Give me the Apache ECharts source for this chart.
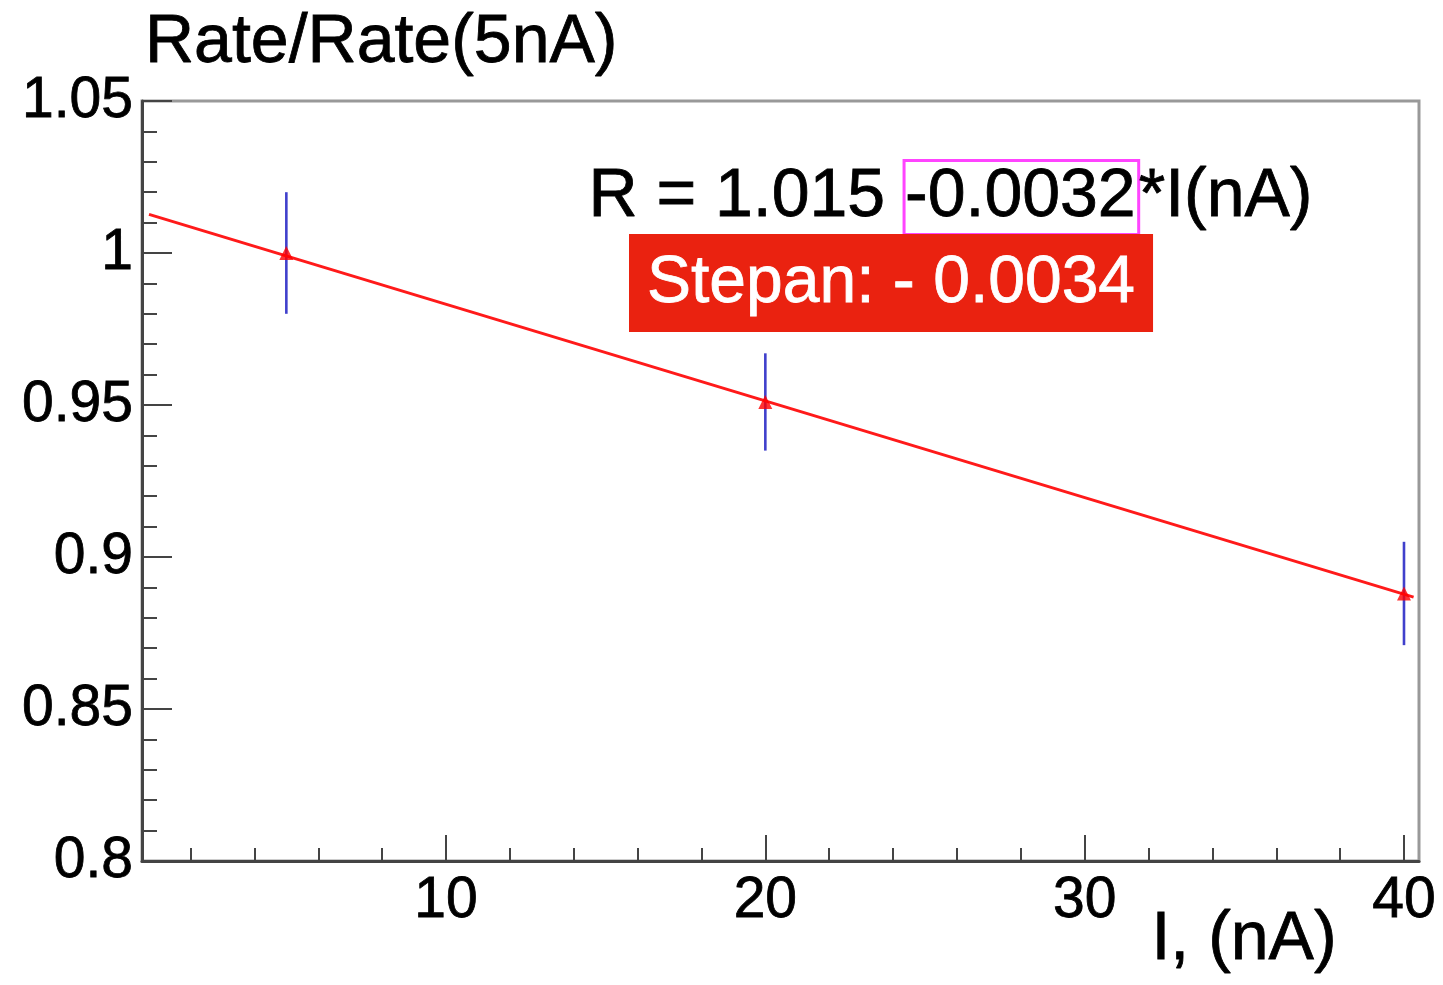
<!DOCTYPE html>
<html>
<head>
<meta charset="utf-8">
<script src="https://cdn.jsdelivr.net/npm/echarts@6/dist/echarts.min.js"></script>
<style>
html,body{margin:0;padding:0;background:#fff;}
#chart{width:1443px;height:985px;}
</style>
</head>
<body>
<div id="chart"></div>
<script>
// ---- data ----
var currents = [5, 20, 40];                // I (nA)
var ratios = [1.000, 0.951, 0.888];        // Rate/Rate(5nA)
var ratioErrors = [0.020, 0.016, 0.017];   // vertical error
var fitLine = [[0.7, 1.0127], [40.3, 0.8868]]; // fitted straight line endpoints
var xMajorTicks = [10, 20, 30, 40];
var xMinorTicks = [2, 4, 6, 8, 12, 14, 16, 18, 22, 24, 26, 28, 32, 34, 36, 38];
var yTickLabels = [0.8, 0.85, 0.9, 0.95, 1, 1.05];
var titleText = 'Rate/Rate(5nA)';
var xTitleText = 'I, (nA)';
var fitText = ['R = 1.015 ', '-0.0032', '*I(nA)'];
var noteText = 'Stepan: - 0.0034';

var FONT = '"Liberation Sans", Arial, Helvetica, sans-serif';
var chart = echarts.init(document.getElementById('chart'));

var points = currents.map(function (x, i) { return [x, ratios[i]]; });
var errs = currents.map(function (x, i) { return [x, ratios[i] - ratioErrors[i], ratios[i] + ratioErrors[i]]; });

var heavy = {textBorderColor: '#000', textBorderWidth: 0.8};

var option = {
  animation: false,
  backgroundColor: '#fff',
  title: {
    text: titleText, left: 140, top: 4,
    textStyle: Object.assign({fontFamily: FONT, fontSize: 68, fontWeight: 'normal', color: '#000'}, heavy)
  },
  grid: {left: 142, right: 24, top: 101, bottom: 124, show: true,
         borderColor: '#999', borderWidth: 3, backgroundColor: 'transparent'},
  xAxis: [{
    type: 'value', min: 0.48, max: 40.47, position: 'bottom',
    axisLine: {show: true, onZero: false, lineStyle: {color: '#444', width: 3}},
    axisTick: {show: true, inside: true, length: 26, customValues: xMajorTicks, lineStyle: {color: '#444', width: 2}},
    axisLabel: Object.assign({show: true, customValues: xMajorTicks, margin: 12, color: '#000', fontFamily: FONT, fontSize: 57}, heavy),
    splitLine: {show: false}
  }, {
    type: 'value', min: 0.48, max: 40.47, position: 'bottom',
    axisLine: {show: false},
    axisTick: {show: true, inside: true, length: 13, customValues: xMinorTicks, lineStyle: {color: '#444', width: 2}},
    axisLabel: {show: false},
    splitLine: {show: false}
  }],
  yAxis: {
    type: 'value', min: 0.8, max: 1.05, interval: 0.05,
    axisLine: {show: true, onZero: false, lineStyle: {color: '#444', width: 3}},
    axisTick: {show: true, inside: true, length: 30, lineStyle: {color: '#444', width: 2}},
    minorTick: {show: true, splitNumber: 5, length: 15, lineStyle: {color: '#444', width: 2}},
    axisLabel: Object.assign({margin: 9, color: '#000', fontFamily: FONT, fontSize: 57,
      formatter: function (v) {
        for (var i = 0; i < yTickLabels.length; i++) {
          if (Math.abs(yTickLabels[i] - v) < 1e-6) return String(yTickLabels[i]);
        }
        return '';
      }}, heavy),
    splitLine: {show: false}
  },
  series: [{
    type: 'custom',
    data: errs,
    renderItem: function (params, api) {
      var top = api.coord([api.value(0), api.value(2)]);
      var bot = api.coord([api.value(0), api.value(1)]);
      return {type: 'line', shape: {x1: top[0], y1: top[1], x2: bot[0], y2: bot[1]},
              style: {stroke: '#4040cc', lineWidth: 2.6}};
    },
    z: 2
  }, {
    type: 'line', data: fitLine, showSymbol: false, symbol: 'none',
    lineStyle: {color: '#ff1a1a', width: 3}, z: 3
  }, {
    type: 'scatter', data: points, symbol: 'triangle', symbolSize: 14,
    itemStyle: {color: '#ff0000'}, z: 4
  }],
  graphic: [{
    type: 'text', left: 588, top: 159, z: 10,
    style: {
      text: '{a|' + fitText[0] + '}{b|' + fitText[1] + '}{a|' + fitText[2] + '}',
      rich: {
        a: {fontFamily: FONT, fontSize: 68, fill: '#000', stroke: '#000', lineWidth: 0.8, lineHeight: 75},
        b: {fontFamily: FONT, fontSize: 68, fill: '#000', stroke: '#000', lineWidth: 0.8, lineHeight: 69,
            borderColor: '#ff44ff', borderWidth: 3, padding: [3, 3, 3, 1]}
      }
    }
  }, {
    type: 'text', left: 629, top: 234, z: 10,
    style: {
      text: noteText, fontFamily: FONT, fontSize: 66, fill: '#fff',
      stroke: '#fff', lineWidth: 0.8,
      backgroundColor: '#ea2210', padding: [16, 18, 14, 18], lineHeight: 68
    }
  }, {
    type: 'text', right: 106, top: 906, z: 10,
    style: {text: xTitleText, fontFamily: FONT, fontSize: 68, fill: '#000', stroke: '#000', lineWidth: 0.8}
  }]
};
chart.setOption(option);
</script>
</body>
</html>
